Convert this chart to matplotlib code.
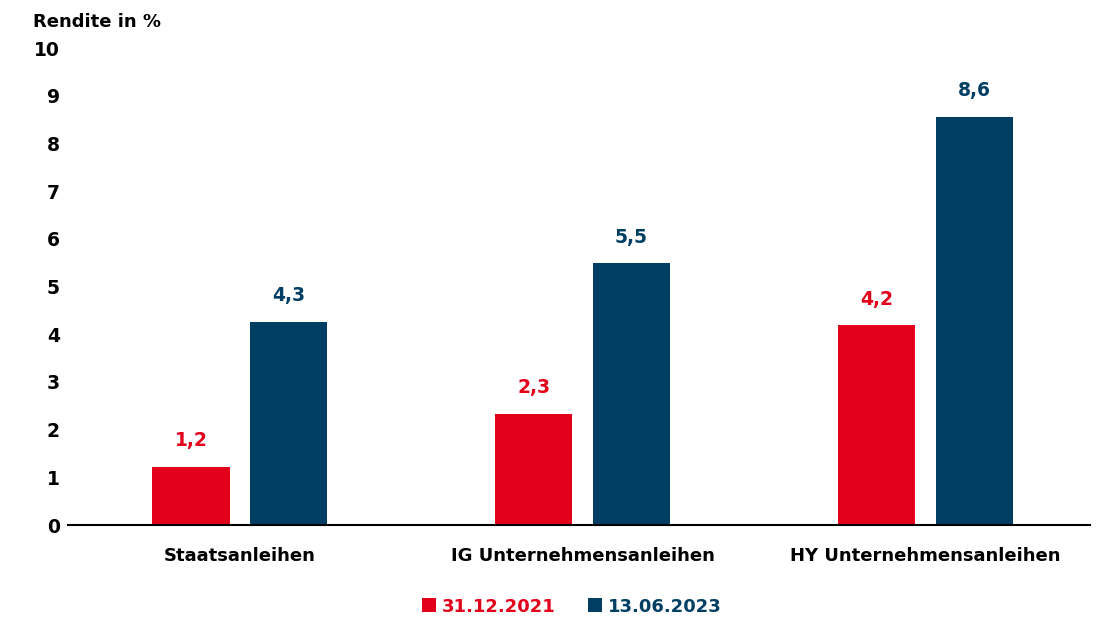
import numpy as np
import matplotlib.pyplot as plt

plt.rcParams['font.family'] = ['DejaVu Sans']

kategorien = ["Staatsanleihen", "IG Unternehmensanleihen", "HY Unternehmensanleihen"]
werte_2021 = [1.22, 2.33, 4.19]
werte_2023 = [4.26, 5.49, 8.56]
serien = ["31.12.2021", "13.06.2023"]
y_ticks = list(range(0, 11))

rot = "#E2001A"
blau = "#003F63"

fig = plt.figure(figsize=(10.99, 6.17), dpi=100)
ax = fig.add_axes([0.062, 0.149, 0.93, 0.773])

x = np.arange(len(kategorien))
breite = 0.225
versatz = 0.142
b1 = ax.bar(x - versatz, werte_2021, breite, color=rot, label=serien[0])
b2 = ax.bar(x + versatz, werte_2023, breite, color=blau, label=serien[1])

for bars, farbe in [(b1, rot), (b2, blau)]:
    for r in bars:
        h = r.get_height()
        ax.annotate(f"{h:.1f}".replace(".", ","), (r.get_x() + r.get_width() / 2, h),
                    xytext=(0, 12), textcoords="offset points", ha="center", va="bottom",
                    color=farbe, fontsize=13.5, fontweight="bold")

ax.set_xlim(-0.5, 2.48)
ax.set_ylim(0, 10)
ax.set_yticks(y_ticks)
ax.set_yticklabels([str(t) for t in y_ticks], fontsize=13.5, fontweight="bold")
ax.set_xticks(x)
ax.set_xticklabels(kategorien, fontsize=13, fontweight="bold")
ax.tick_params(axis="both", length=0)
ax.tick_params(axis="x", pad=16)
ax.tick_params(axis="y", pad=6)

for s in ["top", "right", "left"]:
    ax.spines[s].set_visible(False)
ax.spines["bottom"].set_linewidth(1.5)
ax.spines["bottom"].set_color("black")

fig.text(0.03, 0.965, "Rendite in %", fontsize=13, fontweight="bold", ha="left", va="center")

leg = fig.legend(loc="center", bbox_to_anchor=(0.52, 0.017), ncol=2, frameon=False,
                 fontsize=13, handlelength=0.8, handleheight=0.8, handletextpad=0.3,
                 columnspacing=1.8)
for t, farbe in zip(leg.get_texts(), [rot, blau]):
    t.set_color(farbe)
    t.set_fontweight("bold")

fig.savefig("out.png", dpi=100)
